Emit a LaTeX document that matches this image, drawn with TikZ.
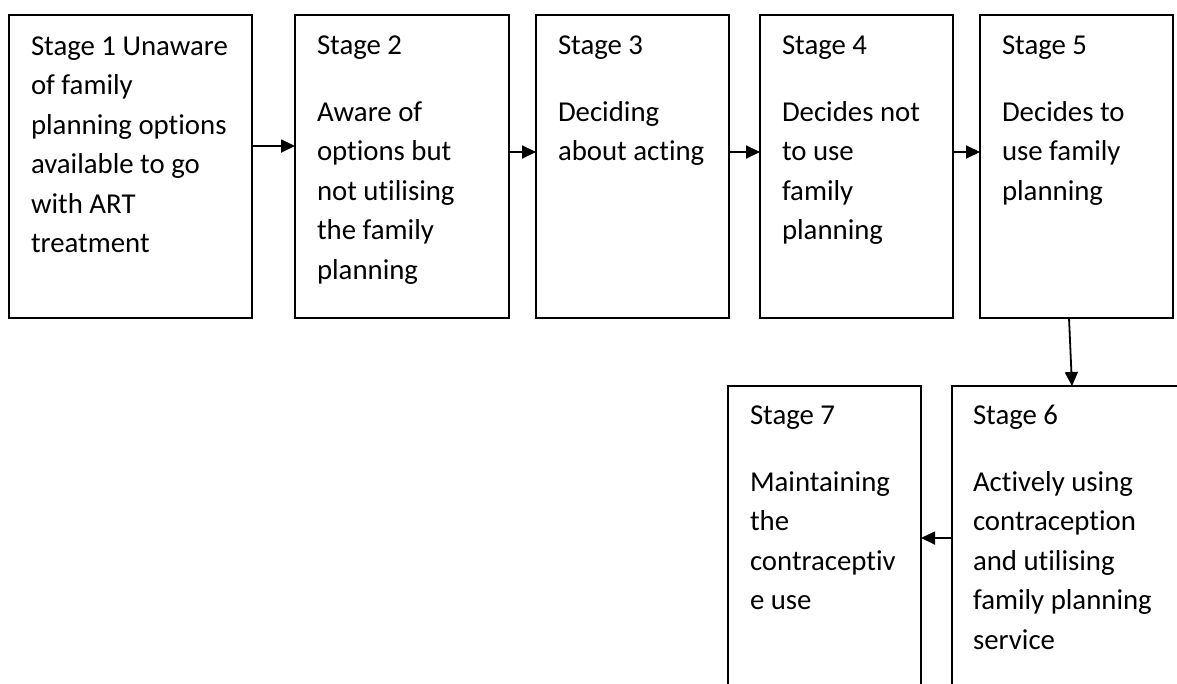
\documentclass[tikz,border=0pt]{standalone}
\usepackage{fontspec}
\setmainfont[Ligatures=NoCommon]{Carlito}
\usetikzlibrary{arrows.meta}
\newcommand{\stagetext}[1]{\parbox[t]{240pt}{\raggedright\fontsize{28.8}{39.5}\selectfont #1}}
\begin{document}
\begin{tikzpicture}[x=1pt,y=-1pt,
  stagebox/.style={draw, line width=1.8pt, rectangle, inner sep=0pt, outer sep=0pt, anchor=north west},
  stagetxt/.style={anchor=base west, inner sep=0pt, outer sep=0pt},
  flow/.style={line width=1.8pt, -{Triangle[length=14pt,width=13pt]}}]
\useasboundingbox (0,0) rectangle (1177,683);
\clip (0,0) rectangle (1177,683);
% boxes
\node[stagebox, minimum width=243pt, minimum height=303pt] (s1) at (9,15) {};
\node[stagebox, minimum width=214pt, minimum height=303pt] (s2) at (295,15) {};
\node[stagebox, minimum width=193pt, minimum height=303pt] (s3) at (536,15) {};
\node[stagebox, minimum width=193pt, minimum height=303pt] (s4) at (760,15) {};
\node[stagebox, minimum width=193pt, minimum height=303pt] (s5) at (980,15) {};
\node[stagebox, minimum width=193pt, minimum height=314pt] (s7) at (728,386) {};
\node[stagebox, minimum width=240pt, minimum height=314pt] (s6) at (952,386) {};
% texts
\node[stagetxt] (t1) at ([xshift=22pt,yshift=-40pt]s1.north west) {\stagetext{Stage 1 Unaware\\of family\\planning options\\available to go\\with ART\\treatment}};
\node[stagetxt] (t2) at ([xshift=22pt,yshift=-39pt]s2.north west) {\stagetext{Stage 2\\[27.5pt]Aware of\\options but\\not utilising\\the family\\planning}};
\node[stagetxt] (t3) at ([xshift=22pt,yshift=-39pt]s3.north west) {\stagetext{Stage 3\\[27.5pt]Deciding\\about acting}};
\node[stagetxt] (t4) at ([xshift=22pt,yshift=-39pt]s4.north west) {\stagetext{Stage 4\\[27.5pt]Decides not\\to use\\family\\planning}};
\node[stagetxt] (t5) at ([xshift=22pt,yshift=-39pt]s5.north west) {\stagetext{Stage 5\\[27.5pt]Decides to\\use family\\planning}};
\node[stagetxt] (t6) at ([xshift=21pt,yshift=-38pt]s6.north west) {\stagetext{Stage 6\\[27.5pt]Actively using\\contraception\\and utilising\\family planning\\service}};
\node[stagetxt] (t7) at ([xshift=22pt,yshift=-38pt]s7.north west) {\stagetext{Stage 7\\[27.5pt]Maintaining\\the\\contraceptiv\\e use}};
% connectors
\draw[flow] ([yshift=-131pt]s1.north east) -- ([yshift=-131pt]s2.north west);
\draw[flow] ([yshift=-137pt]s2.north east) -- ([yshift=-137pt]s3.north west);
\draw[flow] ([yshift=-137pt]s3.north east) -- ([yshift=-137pt]s4.north west);
\draw[flow] ([yshift=-137pt]s4.north east) -- ([yshift=-137pt]s5.north west);
\draw[flow] ([xshift=-7.5pt]s5.south) -- ([xshift=120pt]s6.north west);
\draw[flow] ([yshift=-152pt]s6.north west) -- ([yshift=-152pt]s7.north east);
\end{tikzpicture}
\end{document}
